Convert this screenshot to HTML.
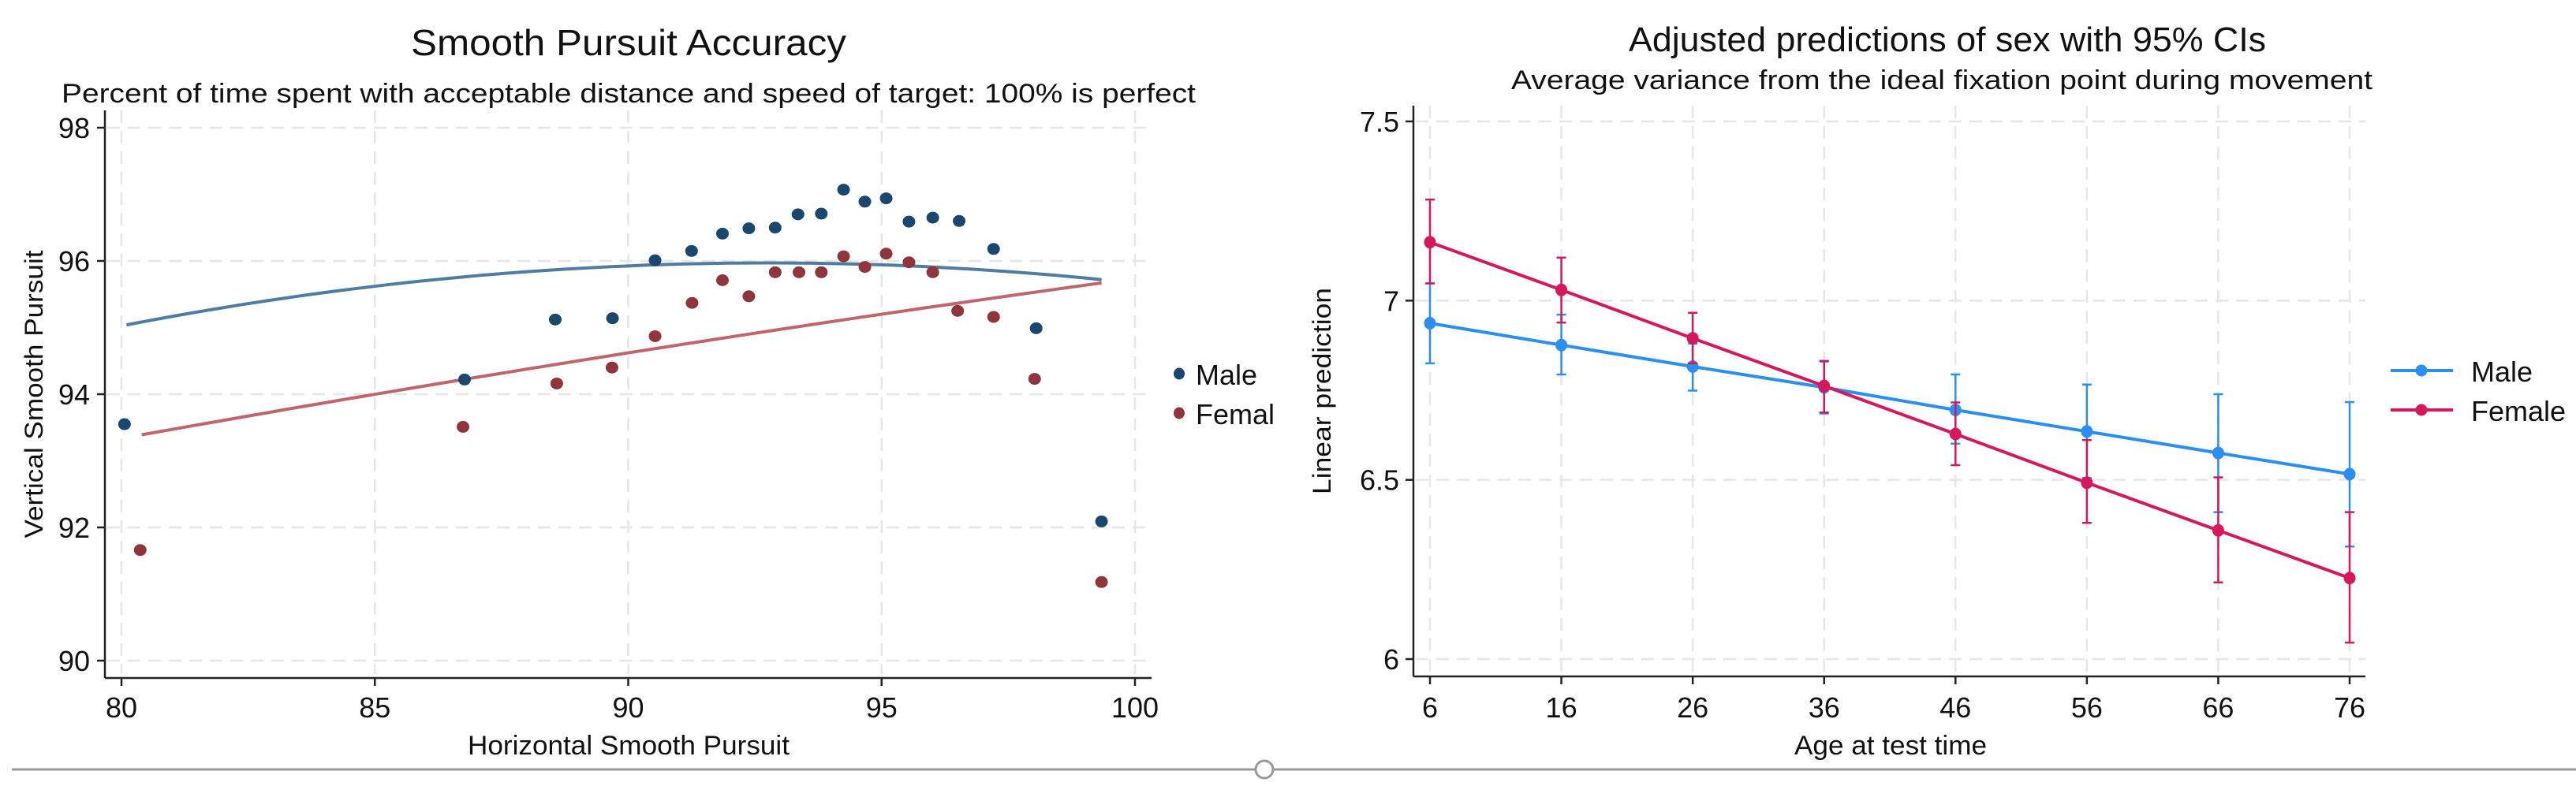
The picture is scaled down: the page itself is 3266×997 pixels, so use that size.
<!DOCTYPE html>
<html><head><meta charset="utf-8"><style>
html,body{margin:0;padding:0;background:#fff}
svg{display:block}
text{font-family:"Liberation Sans",sans-serif;fill:#111}
</style></head><body>
<svg id="root" width="3266" height="997" viewBox="0 0 3266 997" xmlns="http://www.w3.org/2000/svg">
<g id="left"></g>
<g id="right"></g>
<line x1="15" y1="976" x2="3266" y2="976" stroke="#999" stroke-width="3"/>
<circle cx="1603" cy="976" r="11" fill="#fff" stroke="#999" stroke-width="3"/>
</svg>
<script>
// ---- Left chart data ----
const maleX = [80.06,86.77,88.56,89.69,90.53,91.25,91.86,92.38,92.90,93.35,93.81,94.25,94.67,95.09,95.54,96.01,96.53,97.21,98.05,99.34];
const maleY = [93.55,94.22,95.12,95.14,96.01,96.15,96.41,96.49,96.50,96.70,96.71,97.07,96.89,96.94,96.59,96.65,96.60,96.18,94.99,92.09];
const femX = [80.37,86.74,88.59,89.68,90.53,91.26,91.86,92.38,92.90,93.37,93.81,94.25,94.67,95.09,95.54,96.01,96.50,97.21,98.02,99.34];
const femY = [91.66,93.51,94.16,94.40,94.87,95.37,95.71,95.47,95.83,95.83,95.83,96.07,95.91,96.11,95.98,95.83,95.25,95.16,94.23,91.18];
const maleFit = [95.04,95.97,95.72]; // fitted values at start, peak, end
const maleFitX = [80.1,93.0,99.34];
const femFit = [93.39,94.62,95.67];
const femFitX = [80.4,90.0,99.34];
const leftXTicks = [80,85,90,95,100];
const leftYTicks = [90,92,94,96,98];
// ---- Right chart data ----
const ages = [6,16,26,36,46,56,66,76];
const maleM = [6.937,6.876,6.816,6.758,6.695,6.635,6.575,6.516];
const maleLo = [6.825,6.794,6.749,6.685,6.601,6.505,6.410,6.314];
const maleHi = [7.048,6.961,6.880,6.830,6.794,6.766,6.739,6.717];
const femM = [7.163,7.030,6.895,6.762,6.628,6.492,6.359,6.226];
const femLo = [7.048,6.939,6.825,6.688,6.541,6.380,6.214,6.046];
const femHi = [7.282,7.120,6.966,6.832,6.716,6.611,6.507,6.410];
const rightYTicks = [6,6.5,7,7.5];
const rightYLabels = ["6","6.5","7","7.5"];

const NS="http://www.w3.org/2000/svg";
function mk(parent,tag,attrs,txt){const e=document.createElementNS(NS,tag);for(const k in attrs)e.setAttribute(k,attrs[k]);if(txt!==undefined)e.textContent=txt;parent.appendChild(e);return e;}

// ===== LEFT =====
const L=document.getElementById('left');
const lx=v=>154+(v-80)*(1439-154)/20;
const ly=v=>838-(v-90)*(838-162)/8;
let t;
t=mk(L,'text',{x:797,y:70,'text-anchor':'middle','font-size':46,textLength:552,lengthAdjust:'spacingAndGlyphs'},'Smooth Pursuit Accuracy');


t=mk(L,'text',{x:797,y:130,'text-anchor':'middle','font-size':34,textLength:1438,lengthAdjust:'spacingAndGlyphs'},'Percent of time spent with acceptable distance and speed of target: 100% is perfect');


// grid
leftXTicks.forEach(v=>{const g=mk(L,'line',{x1:lx(v),x2:lx(v),y1:140,y2:855,stroke:'#e6e6e6','stroke-width':2.5,'stroke-dasharray':'16 10'});

});
leftYTicks.forEach(v=>{const g=mk(L,'line',{x1:136,x2:1460,y1:ly(v),y2:ly(v),stroke:'#e6e6e6','stroke-width':2.5,'stroke-dasharray':'16 10'});

});
// axes
let a=mk(L,'line',{x1:133,x2:133,y1:140,y2:860,stroke:'#222','stroke-width':2.5});


a=mk(L,'line',{x1:133,x2:1460,y1:860,y2:860,stroke:'#222','stroke-width':2.5});


leftXTicks.forEach(v=>{mk(L,'line',{x1:lx(v),x2:lx(v),y1:860,y2:870,stroke:'#222','stroke-width':2.5});
const tl=mk(L,'text',{x:lx(v),y:910,'text-anchor':'middle','font-size':36},String(v));

});
leftYTicks.forEach(v=>{mk(L,'line',{x1:123,x2:133,y1:ly(v),y2:ly(v),stroke:'#222','stroke-width':2.5});
const tl=mk(L,'text',{x:114,y:ly(v)+13,'text-anchor':'end','font-size':36},String(v));

});
t=mk(L,'text',{x:797,y:957,'text-anchor':'middle','font-size':34,textLength:408,lengthAdjust:'spacingAndGlyphs'},'Horizontal Smooth Pursuit');


t=mk(L,'text',{x:0,y:0,'text-anchor':'middle','font-size':32,textLength:365,lengthAdjust:'spacingAndGlyphs',transform:'translate(54,500) rotate(-90)'},'Vertical Smooth Pursuit');


// fit curves via quadratic through 3 fitted points
function quadPath(xs,ys){const [x0,x1,x2]=xs,[y0,y1,y2]=ys;
 const f=x=>y0*(x-x1)*(x-x2)/((x0-x1)*(x0-x2))+y1*(x-x0)*(x-x2)/((x1-x0)*(x1-x2))+y2*(x-x0)*(x-x1)/((x2-x0)*(x2-x1));
 let d='';for(let i=0;i<=60;i++){const x=x0+(x2-x0)*i/60;d+=(i?'L':'M')+lx(x).toFixed(1)+' '+ly(f(x)).toFixed(1);}return d;}
let p=mk(L,'path',{d:quadPath(maleFitX,maleFit),fill:'none',stroke:'#4f7ca3','stroke-width':4});


p=mk(L,'path',{d:quadPath(femFitX,femFit),fill:'none',stroke:'#c0666b','stroke-width':4});


maleX.forEach((x,i)=>{const c=mk(L,'ellipse',{cx:lx(x),cy:ly(maleY[i]),rx:8,ry:7.5,fill:'#1a476f'});

});
femX.forEach((x,i)=>{const c=mk(L,'ellipse',{cx:lx(x),cy:ly(femY[i]),rx:8,ry:7.5,fill:'#90353b'});

});
// legend
let lg=mk(L,'g',{});


mk(lg,'ellipse',{cx:1495,cy:474,rx:7,ry:7.5,fill:'#1a476f'});
t=mk(lg,'text',{x:1516,y:488,'font-size':36},'Male');


mk(lg,'ellipse',{cx:1495,cy:524,rx:7,ry:7.5,fill:'#90353b'});
t=mk(lg,'text',{x:1516,y:538,'font-size':36},'Femal');



// ===== RIGHT =====
const R=document.getElementById('right');
const rx=v=>1813+(v-6)*(2979-1813)/70;
const ry=v=>836-(v-6)*(836-154)/1.5;
t=mk(R,'text',{x:2469,y:65,'text-anchor':'middle','font-size':44,textLength:808,lengthAdjust:'spacingAndGlyphs'},'Adjusted predictions of sex with 95% CIs');


t=mk(R,'text',{x:2462,y:113,'text-anchor':'middle','font-size':34,textLength:1092,lengthAdjust:'spacingAndGlyphs'},'Average variance from the ideal fixation point during movement');


ages.forEach(v=>{const g=mk(R,'line',{x1:rx(v),x2:rx(v),y1:134,y2:855,stroke:'#e6e6e6','stroke-width':2.5,'stroke-dasharray':'16 10'});

});
rightYTicks.forEach(v=>{const g=mk(R,'line',{x1:1795,x2:2999,y1:ry(v),y2:ry(v),stroke:'#e6e6e6','stroke-width':2.5,'stroke-dasharray':'16 10'});

});
a=mk(R,'line',{x1:1792,x2:1792,y1:134,y2:858,stroke:'#222','stroke-width':2.5});


a=mk(R,'line',{x1:1792,x2:2999,y1:858,y2:858,stroke:'#222','stroke-width':2.5});


ages.forEach(v=>{mk(R,'line',{x1:rx(v),x2:rx(v),y1:858,y2:868,stroke:'#222','stroke-width':2.5});
const tl=mk(R,'text',{x:rx(v),y:910,'text-anchor':'middle','font-size':36},String(v));

});
rightYTicks.forEach((v,i)=>{mk(R,'line',{x1:1782,x2:1792,y1:ry(v),y2:ry(v),stroke:'#222','stroke-width':2.5});
const tl=mk(R,'text',{x:1774,y:ry(v)+13,'text-anchor':'end','font-size':36},rightYLabels[i]);

});
t=mk(R,'text',{x:2397,y:957,'text-anchor':'middle','font-size':34,textLength:244,lengthAdjust:'spacingAndGlyphs'},'Age at test time');


t=mk(R,'text',{x:0,y:0,'text-anchor':'middle','font-size':32,textLength:262,lengthAdjust:'spacingAndGlyphs',transform:'translate(1687,496) rotate(-90)'},'Linear prediction');


function series(mean,lo,hi,col,name){
 const g=mk(R,'g',{});
 
 
 ages.forEach((a,i)=>{const x=rx(a);
  const e=mk(g,'path',{d:`M${x} ${ry(lo[i])}V${ry(hi[i])}M${x-6} ${ry(lo[i])}H${x+6}M${x-6} ${ry(hi[i])}H${x+6}`,stroke:col,'stroke-width':2.5,fill:'none'});
  
  });
 const l=mk(g,'polyline',{points:ages.map((a,i)=>rx(a)+','+ry(mean[i])).join(' '),fill:'none',stroke:col,'stroke-width':4});
 
 
 ages.forEach((a,i)=>{const c=mk(g,'ellipse',{cx:rx(a),cy:ry(mean[i]),rx:7.5,ry:8,fill:col});
  
  });
}
series(maleM,maleLo,maleHi,'#2a8ff0','male');
series(femM,femLo,femHi,'#d5185c','female');
lg=mk(R,'g',{});


mk(lg,'line',{x1:3031,x2:3110,y1:470,y2:470,stroke:'#2a8ff0','stroke-width':4});
mk(lg,'circle',{cx:3070,cy:470,r:7.5,fill:'#2a8ff0'});
t=mk(lg,'text',{x:3133,y:484,'font-size':36},'Male');


mk(lg,'line',{x1:3031,x2:3110,y1:520,y2:520,stroke:'#d5185c','stroke-width':4});
mk(lg,'circle',{cx:3070,cy:520,r:7.5,fill:'#d5185c'});
t=mk(lg,'text',{x:3133,y:534,'font-size':36},'Female');


</script>
</body></html>
